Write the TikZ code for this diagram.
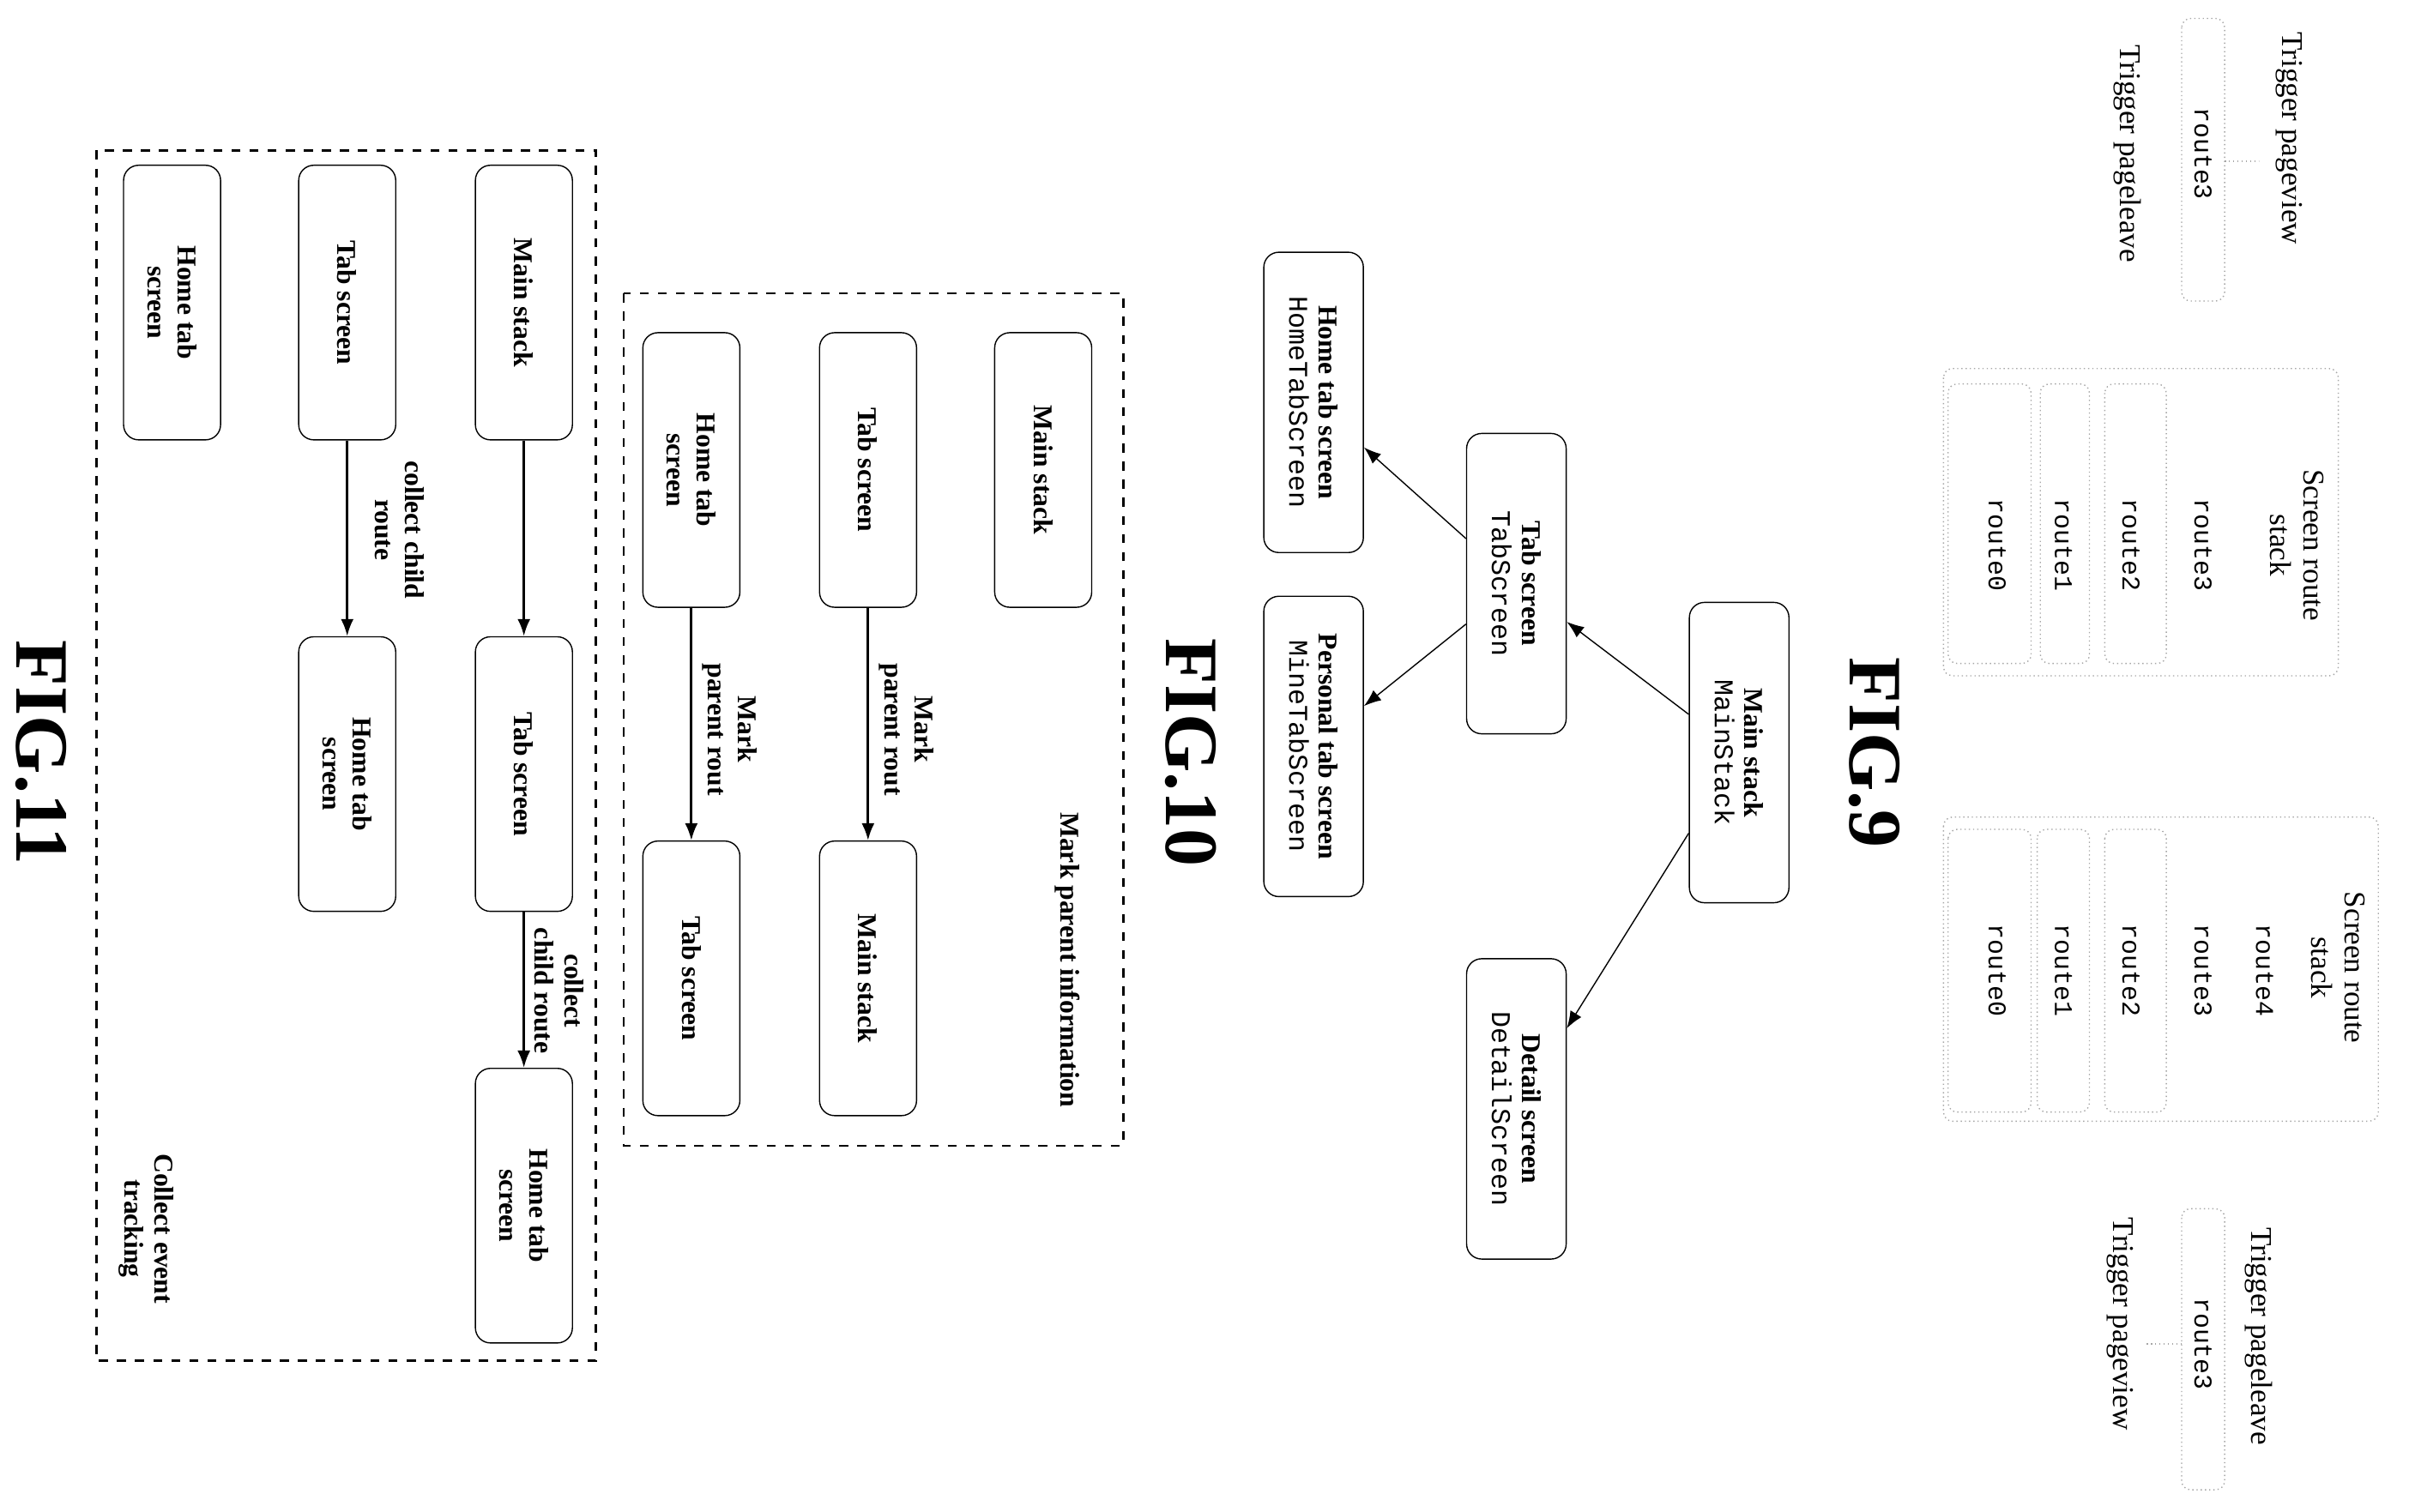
\documentclass[tikz,border=0pt]{standalone}
\usepackage{fontspec}
\setmainfont{Liberation Serif}
\setmonofont{Liberation Mono}
\usetikzlibrary{arrows.meta}
\begin{document}
\begin{tikzpicture}[x=0.0179cm, y=-0.0179cm,
  blk/.style={draw, rounded corners=5pt, rotate=-90, minimum width=3.2cm, minimum height=1.13cm,
    font=\bfseries\fontsize{9}{10}\selectfont, align=center, inner sep=1pt},
  tree/.style={blk, minimum width=3.5cm, minimum height=1.16cm},
  lbl/.style={rotate=-90, font=\bfseries\fontsize{9}{10}\selectfont, align=center},
  txt/.style={rotate=-90, font=\fontsize{10}{11}\selectfont, align=center},
  rte/.style={rotate=-90, font=\ttfamily\fontsize{8.5}{10}\selectfont},
  fig/.style={rotate=-90, font=\bfseries\fontsize{25}{27}\selectfont},
  dot/.style={draw=gray!70, densely dotted, rounded corners=3pt},
  arr/.style={-{Latex[length=2mm]}, thick}]
\useasboundingbox (0,0) rectangle (1568,984);

%FIG.11
\draw[dashed, thick] (63,98) rectangle (388,886);
\node[blk] (main11) at (341,197) {Main stack};
\node[blk] (tab11) at (226,197) {Tab screen};
\node[blk] (home11) at (112,197) {Home tab\\screen};
\node[blk] (tab11b) at (341,504) {Tab screen};
\node[blk] (home11b) at (226,504) {Home tab\\screen};
\node[blk] (home11c) at (341,785) {Home tab\\screen};
\draw[arr] (main11) -- (tab11b);
\draw[arr] (tab11) -- (home11b);
\draw[arr] (tab11b) -- (home11c);
\node[lbl] (coll1) at (260,345) {collect child\\route};
\node[lbl] (coll2) at (364,645) {collect\\child route};
\node[lbl] (event) at (95,800) {Collect event\\tracking};
\node[fig] (fig11) at (27,490) {FIG.11};

%FIG.10
\draw[dashed, thick] (406,191) rectangle (731,746);
\node[blk] (main10) at (679,306) {Main stack};
\node[blk] (tab10) at (565,306) {Tab screen};
\node[blk] (home10) at (450,306) {Home tab\\screen};
\node[blk] (main10b) at (565,637) {Main stack};
\node[blk] (tab10b) at (450,637) {Tab screen};
\draw[arr] (tab10) -- (main10b);
\draw[arr] (home10) -- (tab10b);
\node[lbl] (mark1) at (590,475) {Mark\\parent rout};
\node[lbl] (mark2) at (475,475) {Mark\\parent rout};
\node[lbl] (markinfo) at (695,625) {Mark parent information};
\node[fig] (fig10) at (775,490) {FIG.10};

%FIG.9 tree
\node[tree] (mainst) at (1132,490) {Main stack\\{\mdseries\ttfamily MainStack}};
\node[tree] (tabsc) at (987,380) {Tab screen\\{\mdseries\ttfamily TabScreen}};
\node[tree] (detail) at (987,722) {Detail screen\\{\mdseries\ttfamily DetailScreen}};
\node[tree] (hometab) at (855,262) {Home tab screen\\{\mdseries\ttfamily HomeTabScreen}};
\node[tree] (mine) at (855,486) {Personal tab screen\\{\mdseries\ttfamily MineTabScreen}};
\draw[-{Latex[length=2mm]}] (mainst) -- (tabsc);
\draw[-{Latex[length=2mm]}] (mainst) -- (detail);
\draw[-{Latex[length=2mm]}] (tabsc) -- (hometab);
\draw[-{Latex[length=2mm]}] (tabsc) -- (mine);
\node[fig] (fig9) at (1220,490) {FIG.9};

%FIG.9 route stacks
\draw[dot] (1420,12) rectangle (1448,196);
\node[rte] (trg1) at (1434,100) {route3};
\node[txt] (pv1) at (1490,90) {Trigger pageview};
\node[txt] (pl1) at (1385,100) {Trigger pageleave};
\coordinate (c1) at (1448,105);
\draw[dot] (c1) -- (1470,105);

\draw[dot] (1265,240) rectangle (1522,440);
\foreach \a/\b in {1268/1322, 1328/1360, 1370/1410}
  \draw[dot] (\a,250) rectangle (\b,432);
\node[txt] (stk1) at (1495,355) {Screen route\\stack};
\foreach \x/\r in {1434/route3, 1387/route2, 1343/route1, 1300/route0}
  \node[rte] at (\x,355) {\r};

\draw[dot] (1265,532) rectangle (1548,730);
\foreach \a/\b in {1268/1322, 1326/1360, 1370/1410}
  \draw[dot] (\a,540) rectangle (\b,724);
\node[txt] (stk2) at (1522,630) {Screen route\\stack};
\foreach \x/\r in {1474/route4, 1434/route3, 1387/route2, 1343/route1, 1300/route0}
  \node[rte] at (\x,632) {\r};

\draw[dot] (1420,787) rectangle (1448,970);
\node[rte] (trg2) at (1434,875) {route3};
\node[txt] (pl2) at (1470,870) {Trigger pageleave};
\node[txt] (pv2) at (1380,862) {Trigger pageview};
\coordinate (c2) at (1420,875);
\draw[dot] (c2) -- (1397,875);
\end{tikzpicture}
\end{document}
